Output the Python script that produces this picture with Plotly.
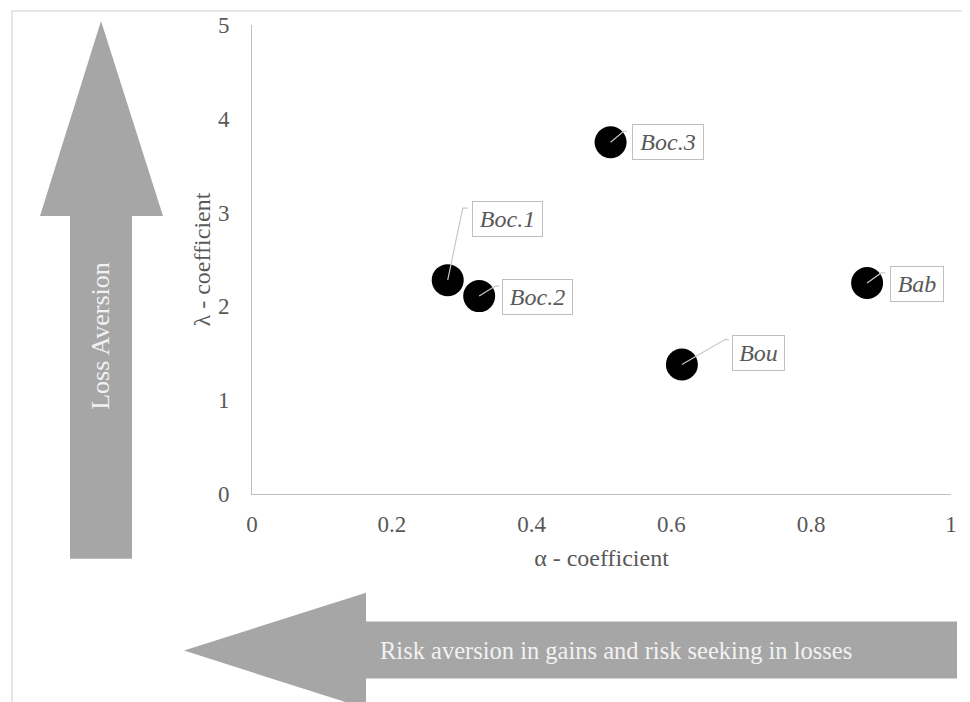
import plotly.graph_objects as go

# ---- data ----
labels = ["Boc.1", "Boc.2", "Boc.3", "Bou", "Bab"]
alpha = [0.280, 0.325, 0.513, 0.615, 0.880]
lam = [2.28, 2.11, 3.75, 1.38, 2.25]
x_ticks = [0, 0.2, 0.4, 0.6, 0.8, 1]
x_tick_text = ["0", "0.2", "0.4", "0.6", "0.8", "1"]
y_ticks = [0, 1, 2, 3, 4, 5]

# ---- styling / placement (pixels, in page coordinates) ----
OFF = 8  # page body margin
W, H = 970 - OFF, 702 - OFF
PLOT_X0, PLOT_X1 = 252, 951
PLOT_Y0, PLOT_Y1 = 25, 494.3
L, T = PLOT_X0 - OFF, PLOT_Y0 - OFF
R = W - (PLOT_X1 - OFF)
B = H - (PLOT_Y1 - OFF)
PW, PH = PLOT_X1 - PLOT_X0, PLOT_Y1 - PLOT_Y0
FONT = "Liberation Serif, Times New Roman, serif"
GREY_TXT = "#595959"
LINE = "#bfbfbf"
ARROW = "#a6a6a6"

# label box offsets (center of box relative to point, px; y up)
label_shift = [(60, 61), (58, -1), (57, 0), (77, 12), (50, -1)]
label_width = [63, 63, 64, 45, 46]
# leader paths relative to point (px; y up)
leader = [
    [(0, 0), (15, 72), (20, 72)],
    [(0, 0), (16, 10), (20, 10)],
    [(0, 0), (13, 11), (17, 11)],
    [(0, 0), (43, 25), (47, 25)],
    [(0, 0), (14, 10), (18, 10)],
]


def px(x):
    return (x - PLOT_X0) / PW


def py(y):
    return (PLOT_Y1 - y) / PH


fig = go.Figure()
fig.add_trace(go.Scatter(
    x=alpha, y=lam, mode="markers",
    marker=dict(size=32, color="#000000", line=dict(width=0)),
    hoverinfo="skip", showlegend=False,
))

shapes = []
# outer light border
shapes.append(dict(type="rect", xref="paper", yref="paper",
                   x0=px(12), x1=px(967), y0=py(11), y1=py(705),
                   line=dict(color="#e6e6e6", width=2), fillcolor="rgba(0,0,0,0)",
                   layer="below"))
# vertical arrow (Loss Aversion)
va = [(101, 21), (163, 216), (132, 216), (132, 559), (70, 559), (70, 216), (40, 216)]
shapes.append(dict(type="path", xref="paper", yref="paper",
                   path="M" + " L".join(f"{px(a)},{py(b)}" for a, b in va) + " Z",
                   fillcolor=ARROW, line=dict(width=0), layer="below"))
# horizontal arrow
ha = [(184, 651), (366, 593), (366, 622), (957, 622), (957, 679), (366, 679), (366, 709)]
shapes.append(dict(type="path", xref="paper", yref="paper",
                   path="M" + " L".join(f"{px(a)},{py(b)}" for a, b in ha) + " Z",
                   fillcolor=ARROW, line=dict(width=0), layer="below"))
# leader lines
for xv, yv, pts in zip(alpha, lam, leader):
    shapes.append(dict(type="path", xref="x", yref="y",
                       xsizemode="pixel", ysizemode="pixel",
                       xanchor=xv, yanchor=yv,
                       path="M" + " L".join(f"{a},{b}" for a, b in pts),
                       line=dict(color="#c8c8c8", width=1.2), layer="above"))

annotations = []
for xv, yv, t, (dx, dy), wd in zip(alpha, lam, labels, label_shift, label_width):
    annotations.append(dict(
        x=xv, y=yv, xref="x", yref="y", text=f"<i>{t}</i>", showarrow=False,
        xshift=dx, yshift=dy, xanchor="center", yanchor="middle",
        width=wd, height=28, align="center",
        font=dict(family=FONT, size=24, color=GREY_TXT),
        bgcolor="#ffffff", bordercolor=LINE, borderwidth=1, borderpad=3,
    ))
annotations.append(dict(
    x=px(101), y=py(336), xref="paper", yref="paper", text="Loss Aversion",
    showarrow=False, textangle=-90, xanchor="center", yanchor="middle",
    font=dict(family=FONT, size=26, color="#f2f2f2"),
))
annotations.append(dict(
    x=px(616), y=py(651), xref="paper", yref="paper",
    text="Risk aversion in gains and risk seeking in losses",
    showarrow=False, xanchor="center", yanchor="middle",
    font=dict(family=FONT, size=24.5, color="#f2f2f2"),
))

fig.update_layout(
    width=W, height=H,
    margin=dict(l=L, r=R, t=T, b=B, autoexpand=False),
    paper_bgcolor="#ffffff", plot_bgcolor="#ffffff",
    shapes=shapes, annotations=annotations,
    font=dict(family=FONT, color=GREY_TXT),
    xaxis=dict(range=[0, 1], tickvals=x_ticks, ticktext=x_tick_text,
               showgrid=False, zeroline=False, showline=True, linecolor=LINE,
               linewidth=1, ticks="", ticklabelstandoff=9,
               tickfont=dict(family=FONT, size=23, color=GREY_TXT),
               title=dict(text="α - coefficient", standoff=13,
                          font=dict(family=FONT, size=24, color=GREY_TXT))),
    yaxis=dict(range=[0, 5], tickvals=y_ticks,
               showgrid=False, zeroline=False, showline=True, linecolor=LINE,
               linewidth=1, ticks="", ticklabelstandoff=17,
               tickfont=dict(family=FONT, size=23, color=GREY_TXT),
               title=dict(text="λ - coefficient", standoff=0,
                          font=dict(family=FONT, size=24, color=GREY_TXT))),
)

fig.write_html("out.html")
